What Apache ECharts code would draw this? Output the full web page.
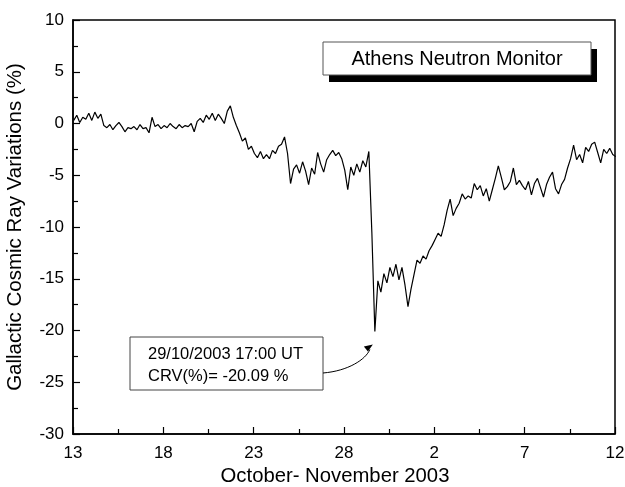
<!DOCTYPE html>
<html>
<head>
<meta charset="utf-8">
<script src="https://cdn.jsdelivr.net/npm/echarts@6/dist/echarts.min.js"></script>
<style>
html,body{margin:0;padding:0;background:#fff;}
#chart{width:625px;height:487px;}
</style>
</head>
<body>
<div id="chart"></div>
<script>
// Cosmic ray variations (%), sampled every 4 h starting 13 Oct 2003 01:00 UT
const startHour = 1;
const stepHours = 4;
const crv = [
  0.3, 0.8, 0.1, 0.6, 0.4, 1.0, 0.3, 1.1, 0.5, 0.9,
  -0.2, -0.4, -0.1, -0.6, -0.2, 0.1, -0.3, -0.8, -0.4, -0.5,
  -0.3, -0.6, -0.1, -0.5, -0.4, -0.9, 0.6, -0.3, -0.1, -0.5,
  -0.2, -0.4, 0.0, -0.3, -0.5, -0.1, -0.4, -0.2, -0.3, 0.0,
  -0.8, 0.2, 0.5, 0.1, 0.8, 0.4, 1.0, 0.3, 0.9, 0.5,
  0.0, 1.2, 1.7, 0.6, -0.2, -0.9, -1.7, -1.4, -2.5, -2.2,
  -2.9, -3.3, -2.7, -3.4, -3.0, -3.4, -2.6, -2.9, -2.2, -2.0,
  -1.3, -2.9, -5.8, -4.4, -4.0, -4.8, -3.7, -4.6, -5.9, -4.3,
  -4.9, -2.8, -3.9, -4.7, -3.5, -3.0, -2.6, -3.1, -2.8, -3.4,
  -4.5, -6.4, -4.2, -5.0, -3.9, -4.7, -3.6, -4.2, -2.7, -10.5,
  -20.09, -15.2, -16.3, -14.5, -15.4, -13.9, -14.8, -13.6, -15.1, -13.9,
  -15.6, -17.7, -16.0, -14.6, -13.2, -13.5, -12.8, -13.1, -12.3, -11.8,
  -11.2, -10.6, -10.9, -9.8, -8.4, -7.3, -8.9, -8.2, -7.7, -6.8,
  -7.3, -7.0, -7.2, -5.8, -6.4, -6.0, -7.0, -6.3, -7.5, -6.4,
  -5.3, -4.1, -5.2, -6.4, -6.1, -5.6, -4.3, -5.9, -5.5, -6.0,
  -6.4, -5.6, -6.9, -5.8, -5.3, -6.2, -7.1, -5.9, -5.2, -4.7,
  -6.3, -6.8, -5.9, -5.4, -4.3, -3.4, -2.1, -3.5, -3.0, -3.8,
  -2.3, -2.7, -2.0, -1.8, -2.8, -3.8, -2.5, -2.9, -2.4, -3.0,
  -3.2
];
const xTickLabels = ['13', '18', '23', '28', '2', '7', '12'];
const minIndex = 100; // 29/10/2003 17:00 UT
const seriesName = 'Athens Neutron Monitor';
const noteLines = ['29/10/2003 17:00 UT', 'CRV(%)= -20.09 %'];

const data = crv.map((v, i) => [(startHour + i * stepHours) / 24, v]);

const FONT = 'Liberation Sans, Arial, Helvetica, sans-serif';
const chart = echarts.init(document.getElementById('chart'), null, {renderer: 'canvas'});

chart.setOption({
  animation: false,
  backgroundColor: '#fff',
  grid: {left: 73, right: 10, top: 20, bottom: 53, show: true, borderColor: '#000', borderWidth: 1.5,
    backgroundColor: 'transparent', containLabel: false, outerBoundsMode: 'none'},
  xAxis: {
    type: 'value', min: 0, max: 30, interval: 5,
    name: 'October- November 2003', nameLocation: 'middle', nameGap: 29,
    nameTextStyle: {fontFamily: FONT, fontSize: 20.3, color: '#000', padding: [0, 18, 0, 0]},
    axisLine: {onZero: false, lineStyle: {color: '#000', width: 1.5}},
    axisTick: {inside: true, length: 7, lineStyle: {color: '#000', width: 1.2}},
    minorTick: {show: true, splitNumber: 2, length: 5, lineStyle: {color: '#000', width: 1.2}},
    axisLabel: {margin: 11, fontFamily: FONT, fontSize: 17, color: '#000',
      formatter: v => xTickLabels[Math.round(v / 5)]},
    splitLine: {show: false}
  },
  yAxis: {
    type: 'value', min: -30, max: 10, interval: 5,
    name: 'Gallactic Cosmic Ray Variations (%)', nameLocation: 'middle', nameGap: 47,
    nameTextStyle: {fontFamily: FONT, fontSize: 20.5, color: '#000'},
    axisLine: {onZero: false, lineStyle: {color: '#000', width: 1.5}},
    axisTick: {inside: true, length: 7, lineStyle: {color: '#000', width: 1.2}},
    minorTick: {show: true, splitNumber: 2, length: 5, lineStyle: {color: '#000', width: 1.2}},
    axisLabel: {margin: 9, fontFamily: FONT, fontSize: 17, color: '#000'},
    splitLine: {show: false}
  },
  series: [{
    name: seriesName, type: 'line', data: data, symbol: 'none',
    lineStyle: {color: '#000', width: 1.2}, clip: true
  }]
});

// Annotations (legend box with shadow, note box with curved arrow)
const tip = chart.convertToPixel({gridIndex: 0}, data[minIndex]);
const ax = tip[0] - 3, ay = tip[1] + 14;
chart.setOption({
  graphic: [
    {type: 'rect', shape: {x: 329, y: 49, width: 268, height: 33}, style: {fill: '#000'}, z: 100},
    {type: 'rect', shape: {x: 323, y: 42, width: 268, height: 33}, style: {fill: '#fff', stroke: '#555', lineWidth: 1}, z: 101},
    {type: 'text', x: 457, y: 59, style: {text: seriesName, fontFamily: FONT, fontSize: 20, fill: '#000', align: 'center', verticalAlign: 'middle'}, z: 102},
    {type: 'rect', shape: {x: 130, y: 337, width: 193, height: 53}, style: {fill: '#fff', stroke: '#444', lineWidth: 1}, z: 100},
    {type: 'text', x: 148, y: 354, style: {text: noteLines[0], fontFamily: FONT, fontSize: 16.5, fill: '#000', verticalAlign: 'middle'}, z: 101},
    {type: 'text', x: 148, y: 376, style: {text: noteLines[1], fontFamily: FONT, fontSize: 16.5, fill: '#000', verticalAlign: 'middle'}, z: 101},
    {type: 'bezierCurve', shape: {x1: 323, y1: 373, cpx1: 348, cpy1: 371, cpx2: ax - 6, cpy2: ay + 14, x2: ax - 2, y2: ay + 4},
      style: {stroke: '#000', lineWidth: 1, fill: null}, z: 101},
    {type: 'polygon', shape: {points: [[ax + 1, ay - 1], [ax - 8, ay + 1], [ax - 4, ay + 6]]}, style: {fill: '#000'}, z: 101}
  ]
});
</script>
</body>
</html>
